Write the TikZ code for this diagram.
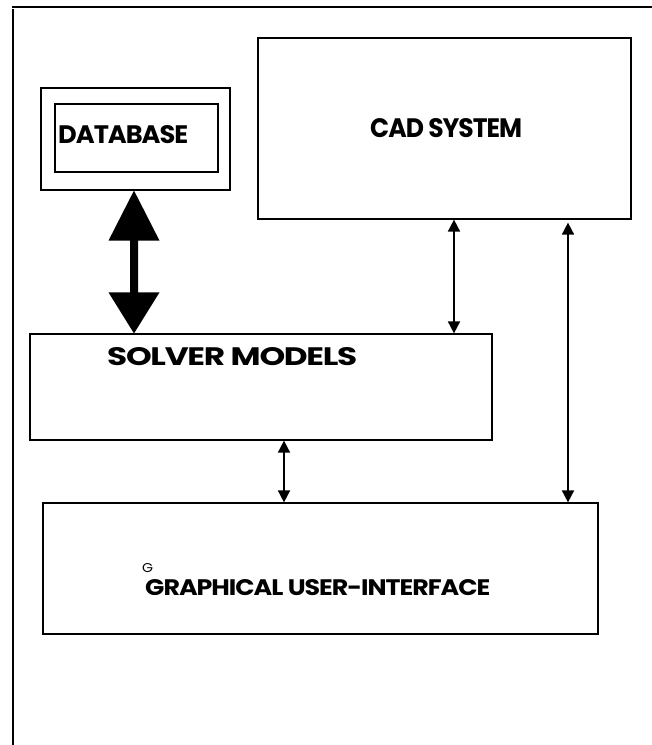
\documentclass[tikz,border=0pt]{standalone}
\usepackage{fontspec}
\setmainfont{Poppins}
\usetikzlibrary{arrows.meta,calc}
\newcommand{\fitlbl}[3]{\resizebox{#1}{#2}{\bfseries\addfontfeatures{LetterSpace=-4}#3}}
\tikzset{
  box/.style={draw=black, line width=1.2pt, rectangle, inner sep=0pt, fill=white},
  lbl/.style={inner sep=0pt, anchor=base west},
  thinarrow/.style={line width=1.7pt, {Triangle[width=12pt,length=12pt]}-{Triangle[width=12pt,length=12pt]}},
  bigarrow/.style={fill=black, draw=none},
  frameline/.style={line width=2pt}
}
\begin{document}
\begin{tikzpicture}[x=1pt,y=-1pt]
\useasboundingbox (0,0) rectangle (652,745);
% frame
\coordinate (ftl) at (12,7);
\coordinate (ftr) at (652,7);
\coordinate (flt) at (13,9);
\coordinate (flb) at (13,745);
\draw[frameline] (ftl) -- (ftr);
\draw[frameline] (flt) -- (flb);
% boxes
\node[box, minimum width=189pt, minimum height=102pt] (dbo) at (135.5,139) {};
\node[box, minimum width=163pt, minimum height=68pt] (dbi) at (136.5,138) {};
\node[lbl] (dbt) at (58,143) {\fitlbl{130pt}{18pt}{DATABASE}};
\node[box, minimum width=373pt, minimum height=181pt] (cad) at (444.5,128.5) {};
\node[lbl] (cadt) at (370,137) {\fitlbl{152pt}{19pt}{CAD SYSTEM}};
\node[box, minimum width=462pt, minimum height=106pt] (solver) at (261,387) {};
\node[lbl] (solvert) at (107,365) {\fitlbl{250pt}{18pt}{SOLVER MODELS}};
\node[box, minimum width=555pt, minimum height=131pt] (gui) at (320.5,568.5) {};
\node[lbl] (guit) at (145,595) {\fitlbl{345pt}{16pt}{GRAPHICAL USER-INTERFACE}};
\node[lbl] (g) at (142,572) {\resizebox{11pt}{9pt}{G}};
% connector anchors
\coordinate (xa) at (134,0);
\coordinate (xb) at (454,0);
\coordinate (xc) at (568,0);
\coordinate (xd) at (284,0);
% big double arrow
\path (dbo.south -| xa) coordinate (bt) (solver.north -| xa) coordinate (bb);
\fill[bigarrow] (bt) -- ($(bt)+(25.5,50)$) -- ($(bt)+(4,50)$) -- ($(bb)+(4,-41)$) -- ($(bb)+(25.5,-41)$) -- (bb)
  -- ($(bb)+(-25.5,-41)$) -- ($(bb)+(-4,-41)$) -- ($(bt)+(-4,50)$) -- ($(bt)+(-25.5,50)$) -- cycle;
% thin arrows
\draw[thinarrow] (cad.south -| xb) -- (solver.north -| xb);
\draw[thinarrow] ($(cad.south -| xc)+(0,3)$) -- (gui.north -| xc);
\draw[thinarrow] (solver.south -| xd) -- (gui.north -| xd);
\end{tikzpicture}
\end{document}
